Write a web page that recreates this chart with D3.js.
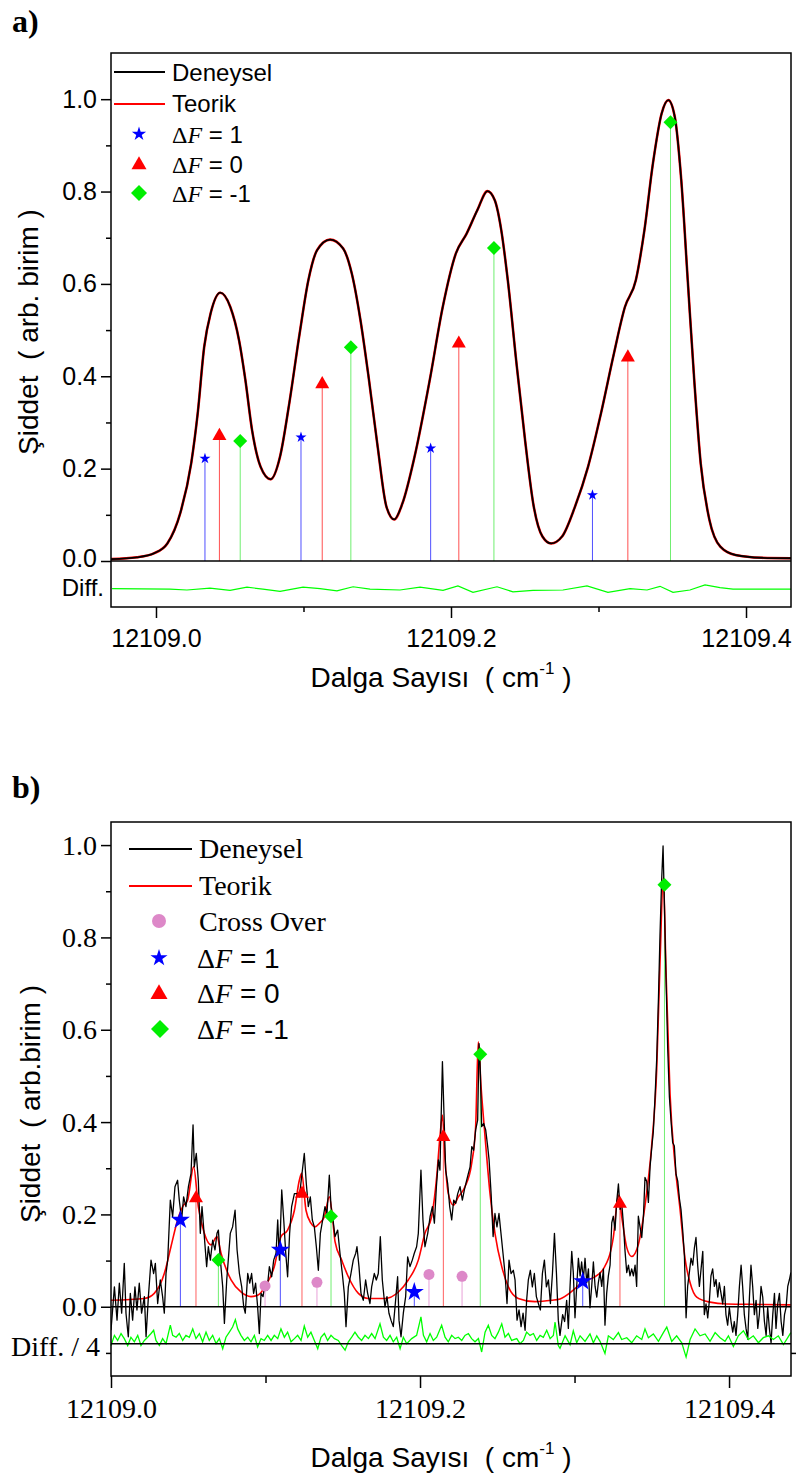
<!DOCTYPE html>
<html>
<head>
<meta charset="utf-8">
<script src="https://cdn.jsdelivr.net/npm/d3@7"></script>
<style>
body { margin: 0; background: #fff; }
text { white-space: pre; }
</style>
</head>
<body>
<div id="chart"></div>
<script>
// x values are offsets from 12109 cm-1
var base = 12109;
var xMajor = [0, 0.2, 0.4];
var xMinor = [0.1, 0.3];
var yMajor = [0, 0.2, 0.4, 0.6, 0.8, 1.0];
var yMinor = [0.1, 0.3, 0.5, 0.7, 0.9];

/* ---- panel a ---- */
var aX = [-0.0305,-0.0129,-0.0011,0.0077,0.0165,0.0239,0.0283,0.0327,0.0371,0.0436,0.0504,0.0563,0.0606,0.0651,0.0709,0.0777,0.0841,0.0900,0.0974,0.1033,0.1092,0.1180,0.1268,0.1327,0.1386,0.1444,0.1503,0.1562,0.1615,0.1671,0.1753,0.1856,0.1944,0.2033,0.2106,0.2179,0.2247,0.2297,0.2341,0.2385,0.2444,0.2502,0.2561,0.2620,0.2679,0.2753,0.2841,0.2929,0.3017,0.3105,0.3179,0.3253,0.3311,0.3369,0.3428,0.3473,0.3517,0.3561,0.3605,0.3649,0.3693,0.3752,0.3826,0.3928,0.4105,0.4305];
var aExp = [0.004,0.008,0.017,0.038,0.104,0.212,0.32,0.464,0.537,0.581,0.55,0.478,0.392,0.284,0.204,0.177,0.226,0.334,0.493,0.608,0.673,0.696,0.677,0.623,0.522,0.392,0.247,0.118,0.09,0.125,0.226,0.392,0.55,0.666,0.709,0.76,0.801,0.781,0.716,0.608,0.428,0.262,0.118,0.053,0.038,0.053,0.118,0.204,0.32,0.45,0.55,0.608,0.716,0.861,0.969,0.998,0.962,0.825,0.608,0.392,0.211,0.089,0.031,0.013,0.007,0.006];
// fit lies on top of the measured curve
var aTeo = aExp;
var aDiffX = [-0.0298,0.0095,0.0210,0.0366,0.0502,0.0617,0.0725,0.0841,0.0997,0.1112,0.1227,0.1336,0.1451,0.1654,0.1790,0.1946,0.2047,0.2149,0.2312,0.2420,0.2556,0.2759,0.2922,0.3064,0.3214,0.3329,0.3417,0.3505,0.3620,0.3722,0.3824,0.3912,0.4305];
var aDiff = [0,-0.001,-0.003,0.001,-0.004,0.003,-0.001,-0.006,0.003,0,-0.005,0.004,-0.001,-0.003,0.003,-0.004,0.006,-0.008,0.004,-0.007,-0.004,-0.003,0.006,-0.008,0,-0.003,0.005,-0.008,-0.003,0.008,0.002,-0.001,-0.001];
var aF1X = [0.0332,0.0983,0.1862,0.2959],  aF1Y = [0.222,0.268,0.244,0.143];
var aF0X = [0.0430,0.1127,0.2053,0.3199],  aF0Y = [0.271,0.383,0.471,0.441];
var aFm1X = [0.0571,0.1321,0.2291,0.3488], aFm1Y = [0.26,0.463,0.678,0.95];

/* ---- panel b ---- */
var bExp = [[0.0000,-0.051],[0.0022,0.043],[0.0039,-0.029],[0.0054,0.051],[0.0069,-0.014],[0.0086,0.094],[0.0097,-0.014],[0.0112,-0.065],[0.0125,0.029],[0.0140,-0.029],[0.0155,0.043],[0.0168,-0.007],[0.0183,0.051],[0.0198,-0.014],[0.0216,0.022],[0.0227,-0.065],[0.0242,0.022],[0.0259,0.101],[0.0276,0.072],[0.0287,0.094],[0.0302,0.007],[0.0319,0.058],[0.0334,0.022],[0.0345,-0.014],[0.0356,0.072],[0.0367,0.101],[0.0384,0.231],[0.0399,0.195],[0.0414,0.260],[0.0431,0.274],[0.0442,0.231],[0.0457,0.188],[0.0470,0.238],[0.0485,0.217],[0.0501,0.260],[0.0518,0.289],[0.0531,0.394],[0.0539,0.303],[0.0552,0.332],[0.0565,0.274],[0.0578,0.159],[0.0589,0.217],[0.0604,0.152],[0.0619,0.087],[0.0630,0.130],[0.0643,0.101],[0.0658,0.144],[0.0673,0.123],[0.0686,0.159],[0.0695,0.166],[0.0708,0.101],[0.0723,0.043],[0.0734,-0.036],[0.0749,0.058],[0.0759,0.101],[0.0772,0.159],[0.0787,0.173],[0.0803,0.209],[0.0816,0.123],[0.0831,0.072],[0.0846,0.043],[0.0859,0.000],[0.0869,-0.014],[0.0885,0.072],[0.0898,0.051],[0.0910,0.072],[0.0923,0.029],[0.0936,0.051],[0.0949,0.000],[0.0960,-0.058],[0.0971,0.029],[0.0984,0.022],[0.0997,0.051],[0.1010,0.036],[0.1025,0.087],[0.1040,0.065],[0.1053,0.101],[0.1068,0.116],[0.1079,0.188],[0.1090,0.101],[0.1105,0.253],[0.1118,0.188],[0.1131,0.116],[0.1143,0.065],[0.1156,0.159],[0.1169,0.217],[0.1187,0.245],[0.1204,0.245],[0.1219,0.238],[0.1234,0.282],[0.1251,0.332],[0.1264,0.267],[0.1277,0.217],[0.1290,0.238],[0.1303,0.188],[0.1316,0.173],[0.1329,0.130],[0.1342,0.079],[0.1355,0.159],[0.1370,0.188],[0.1385,0.217],[0.1398,0.202],[0.1413,0.285],[0.1424,0.217],[0.1437,0.188],
  [0.1450,0.152],[0.1467,0.166],[0.1482,0.116],[0.1497,0.072],[0.1510,0.029],[0.1521,-0.043],[0.1536,0.043],[0.1553,0.072],[0.1568,0.101],[0.1584,0.116],[0.1592,0.130],[0.1605,0.087],[0.1618,0.029],[0.1633,0.014],[0.1648,0.058],[0.1661,0.029],[0.1676,0.007],[0.1687,0.043],[0.1704,0.072],[0.1717,0.058],[0.1730,0.072],[0.1743,0.152],[0.1756,0.058],[0.1773,0.000],[0.1786,0.022],[0.1799,-0.014],[0.1812,-0.029],[0.1827,-0.043],[0.1842,0.014],[0.1855,0.065],[0.1864,-0.029],[0.1877,-0.065],[0.1892,-0.014],[0.1907,0.022],[0.1920,0.108],[0.1935,0.087],[0.1950,0.101],[0.1963,0.116],[0.1978,0.130],[0.1989,0.159],[0.2006,0.296],[0.2019,0.188],[0.2032,0.130],[0.2050,0.159],[0.2065,0.195],[0.2080,0.217],[0.2093,0.181],[0.2106,0.260],[0.2119,0.318],[0.2129,0.296],[0.2145,0.531],[0.2155,0.419],[0.2166,0.296],[0.2179,0.267],[0.2192,0.217],[0.2205,0.188],[0.2218,0.231],[0.2231,0.224],[0.2244,0.245],[0.2259,0.260],[0.2274,0.231],[0.2287,0.253],[0.2302,0.274],[0.2313,0.289],[0.2324,0.303],[0.2335,0.347],[0.2347,0.339],[0.2360,0.383],[0.2373,0.404],[0.2382,0.570],[0.2390,0.513],[0.2399,0.390],[0.2412,0.397],[0.2425,0.383],[0.2438,0.347],[0.2447,0.318],[0.2460,0.245],[0.2473,0.152],[0.2485,0.202],[0.2498,0.173],[0.2511,0.202],[0.2524,0.159],[0.2537,0.116],[0.2550,0.072],[0.2563,0.007],[0.2576,0.101],[0.2589,0.072],[0.2604,0.079],[0.2615,0.058],[0.2628,-0.029],[0.2641,-0.007],[0.2654,-0.043],[0.2667,-0.014],[0.2680,-0.051],[0.2690,0.014],[0.2701,0.058],[0.2714,0.079],[0.2727,0.043],[0.2740,0.072],[0.2753,0.022],[0.2766,0.007],[0.2779,-0.007],[0.2792,0.072],[0.2805,0.101],[0.2818,0.043],[0.2831,0.058],[0.2844,0.007],[0.2857,0.072],[0.2870,0.159],[0.2883,0.072],[0.2895,-0.029],
  [0.2906,-0.062],[0.2923,-0.017],[0.2936,-0.032],[0.2949,0.014],[0.2960,-0.047],[0.2971,0.044],[0.2982,0.120],[0.2992,0.074],[0.3003,-0.024],[0.3014,0.044],[0.3025,0.105],[0.3036,0.067],[0.3046,0.097],[0.3057,0.059],[0.3068,0.105],[0.3079,0.052],[0.3090,0.082],[0.3100,-0.002],[0.3111,0.044],[0.3122,0.097],[0.3133,0.044],[0.3144,0.021],[0.3154,0.052],[0.3165,0.074],[0.3176,0.044],[0.3187,0.082],[0.3197,-0.040],[0.3208,0.029],[0.3219,0.067],[0.3230,0.090],[0.3241,0.182],[0.3251,0.196],[0.3262,0.166],[0.3273,0.228],[0.3284,0.266],[0.3295,0.211],[0.3305,0.226],[0.3316,0.181],[0.3327,0.120],[0.3338,0.074],[0.3349,0.090],[0.3359,0.067],[0.3370,0.082],[0.3381,0.067],[0.3392,0.090],[0.3402,0.044],[0.3413,0.196],[0.3424,0.173],[0.3435,0.150],[0.3446,0.196],[0.3456,0.280],[0.3467,0.272],[0.3478,0.226],[0.3489,0.304],[0.3499,0.342],[0.3510,0.380],[0.3521,0.454],[0.3532,0.538],[0.3543,0.667],[0.3553,0.804],[0.3564,0.926],[0.3573,0.998],[0.3581,0.880],[0.3592,0.713],[0.3603,0.560],[0.3614,0.454],[0.3625,0.401],[0.3635,0.356],[0.3646,0.348],[0.3657,0.287],[0.3668,0.272],[0.3679,0.234],[0.3689,0.211],[0.3700,0.166],[0.3711,0.112],[0.3722,-0.024],[0.3732,0.044],[0.3743,0.074],[0.3754,0.105],[0.3765,0.090],[0.3776,0.128],[0.3786,0.150],[0.3797,0.090],[0.3808,0.044],[0.3819,0.082],[0.3830,0.120],[0.3840,-0.017],[0.3851,0.006],[0.3862,-0.024],[0.3873,0.014],[0.3883,0.067],[0.3894,0.082],[0.3905,0.044],[0.3916,0.059],[0.3927,0.021],[0.3937,0.052],[0.3948,0.029],[0.3959,0.006],[0.3970,0.044],[0.3980,-0.017],[0.3991,-0.040],[0.4002,-0.002],[0.4013,-0.032],[0.4024,-0.055],[0.4034,-0.032],[0.4045,-0.062],[0.4056,-0.017],[0.4067,0.044],[0.4078,0.090],[0.4088,0.044],[0.4099,-0.017],[0.4110,-0.047],[0.4121,-0.070],[0.4132,0.021],[0.4142,0.090],[0.4153,0.044],[0.4164,-0.017],[0.4175,0.014],[0.4186,-0.047],[0.4196,-0.017],[0.4207,0.044],[0.4218,0.021],[0.4229,-0.032],[0.4240,-0.062],[0.4250,-0.002],[0.4261,-0.047],[0.4272,-0.078],[0.4283,-0.017],[0.4294,0.029],[0.4304,-0.047],[0.4315,0.006],[0.4326,0.029],[0.4337,-0.032],[0.4348,-0.062],[0.4359,-0.017],[0.4369,-0.002],[0.4380,0.044],[0.4391,0.059],[0.4400,0.074]];
var bTeo = [[0,0.014],[0.0216,0.018],[0.0280,0.029],[0.0345,0.072],[0.0388,0.130],[0.0431,0.188],[0.0464,0.217],[0.0496,0.231],[0.0535,0.303],[0.0565,0.217],[0.0604,0.159],[0.0647,0.134],[0.0686,0.152],[0.0712,0.116],[0.0777,0.058],[0.0841,0.032],[0.0906,0.022],[0.0949,0.025],[0.1003,0.047],[0.1057,0.087],[0.1100,0.152],[0.1143,0.166],[0.1187,0.209],[0.1219,0.274],[0.1234,0.289],[0.1262,0.209],[0.1294,0.181],[0.1320,0.173],[0.1349,0.181],[0.1381,0.195],[0.1413,0.238],[0.1435,0.188],[0.1450,0.141],[0.1493,0.101],[0.1536,0.065],[0.1601,0.029],[0.1666,0.018],[0.1773,0.018],[0.1860,0.032],[0.1924,0.058],[0.1989,0.101],[0.2032,0.159],[0.2075,0.195],[0.2108,0.282],[0.2129,0.368],[0.2145,0.415],[0.2162,0.318],[0.2183,0.245],[0.2216,0.220],[0.2248,0.238],[0.2291,0.260],[0.2334,0.310],[0.2360,0.390],[0.2377,0.574],[0.2395,0.477],[0.2421,0.368],[0.2453,0.245],[0.2485,0.159],[0.2529,0.087],[0.2572,0.043],[0.2636,0.018],[0.2744,0.011],[0.2852,0.014],[0.2906,0.017],[0.2992,0.036],[0.3057,0.055],[0.3122,0.063],[0.3187,0.082],[0.3251,0.150],[0.3284,0.242],[0.3305,0.196],[0.3338,0.128],[0.3370,0.109],[0.3413,0.135],[0.3456,0.219],[0.3499,0.348],[0.3532,0.515],[0.3553,0.743],[0.3575,0.930],[0.3592,0.728],[0.3618,0.462],[0.3650,0.310],[0.3683,0.211],[0.3715,0.105],[0.3748,0.052],[0.3791,0.021],[0.3877,0.010],[0.3985,0.006],[0.4200,0.005],[0.4400,0.004]];
var bDiffBase = -0.08;
var bDiff = [[0.0000,-0.004],[0.0022,0.018],[0.0043,0.007],[0.0065,0.022],[0.0086,0.011],[0.0108,-0.004],[0.0129,0.014],[0.0151,0.004],[0.0173,0.018],[0.0194,-0.004],[0.0216,0.007],[0.0237,0.014],[0.0259,0.022],[0.0276,0.029],[0.0291,0.007],[0.0313,-0.004],[0.0334,0.011],[0.0356,0.000],[0.0384,0.040],[0.0399,0.018],[0.0421,0.014],[0.0442,0.022],[0.0464,0.007],[0.0485,0.018],[0.0507,0.014],[0.0529,0.032],[0.0550,0.011],[0.0572,0.022],[0.0593,0.004],[0.0615,0.025],[0.0636,0.007],[0.0658,0.018],[0.0680,0.000],[0.0701,0.011],[0.0723,-0.011],[0.0744,0.014],[0.0766,0.025],[0.0787,0.036],[0.0805,0.052],[0.0820,0.032],[0.0841,0.018],[0.0863,0.007],[0.0885,0.014],[0.0906,0.004],[0.0928,0.018],[0.0949,-0.007],[0.0971,0.011],[0.0992,0.007],[0.1014,0.018],[0.1036,0.007],[0.1057,0.018],[0.1079,0.011],[0.1100,0.032],[0.1122,0.014],[0.1143,0.025],[0.1165,0.004],[0.1187,0.011],[0.1208,0.018],[0.1230,0.007],[0.1251,0.038],[0.1273,0.014],[0.1294,0.025],[0.1316,0.007],[0.1338,-0.011],[0.1359,0.014],[0.1381,0.022],[0.1402,0.007],[0.1424,0.018],[0.1446,0.011],
  [0.1471,0.007],[0.1493,-0.004],[0.1515,-0.014],[0.1536,0.004],[0.1558,0.014],[0.1579,0.025],[0.1601,0.014],[0.1622,0.007],[0.1644,0.018],[0.1666,0.011],[0.1687,0.022],[0.1709,0.011],[0.1741,0.043],[0.1763,0.014],[0.1784,0.007],[0.1806,0.018],[0.1827,0.004],[0.1849,0.014],[0.1871,-0.011],[0.1892,0.014],[0.1914,0.000],[0.1946,0.011],[0.1978,0.018],[0.2006,0.058],[0.2022,0.018],[0.2043,0.004],[0.2065,0.022],[0.2086,0.007],[0.2108,0.014],[0.2140,0.040],[0.2162,0.014],[0.2183,0.004],[0.2205,0.018],[0.2227,0.011],[0.2248,0.014],[0.2270,0.007],[0.2291,0.018],[0.2313,0.022],[0.2334,0.011],[0.2356,0.004],[0.2378,0.011],[0.2399,-0.018],[0.2421,0.025],[0.2442,0.040],[0.2464,0.018],[0.2485,0.011],[0.2507,0.025],[0.2529,0.043],[0.2550,0.014],[0.2572,0.022],[0.2593,0.007],[0.2626,0.011],[0.2647,0.000],[0.2669,0.007],[0.2690,0.025],[0.2712,0.018],[0.2734,0.022],[0.2755,0.007],[0.2777,0.018],[0.2798,0.014],[0.2820,0.029],[0.2842,0.011],[0.2863,0.018],[0.2874,0.047],[0.2895,-0.004],
  [0.2906,-0.010],[0.2939,0.017],[0.2971,-0.002],[0.2992,0.028],[0.3014,0.002],[0.3036,0.017],[0.3068,0.005],[0.3100,0.021],[0.3122,0.002],[0.3144,0.017],[0.3165,0.005],[0.3197,-0.021],[0.3219,0.017],[0.3251,0.009],[0.3284,0.024],[0.3305,0.009],[0.3338,0.013],[0.3370,0.002],[0.3402,0.017],[0.3435,0.009],[0.3456,0.032],[0.3478,0.013],[0.3510,0.021],[0.3543,0.005],[0.3575,0.024],[0.3597,0.036],[0.3629,0.005],[0.3661,0.017],[0.3694,0.002],[0.3722,-0.029],[0.3748,0.009],[0.3780,0.032],[0.3812,0.017],[0.3845,0.021],[0.3877,0.005],[0.3910,0.024],[0.3942,0.013],[0.3974,0.005],[0.3996,0.017],[0.4028,-0.006],[0.4060,0.017],[0.4093,0.028],[0.4125,0.009],[0.4157,0.017],[0.4190,0.002],[0.4222,0.013],[0.4255,0.017],[0.4287,0.009],[0.4319,0.017],[0.4352,-0.002],[0.4380,0.013],[0.4400,0.024]];
var bCrossX = [0.0997,0.1333,0.2058,0.2272], bCrossY = [0.045,0.053,0.070,0.066];
var bF1X = [0.0449,0.1096,0.1963,0.3053],  bF1Y = [0.188,0.123,0.032,0.055];
var bF0X = [0.0550,0.1236,0.2151,0.3294],  bF0Y = [0.235,0.245,0.368,0.223];
var bFm1X = [0.0695,0.1424,0.2390,0.3582], bFm1Y = [0.101,0.196,0.547,0.914];

var SANS = "'Liberation Sans', Arial, sans-serif";
var SERIF = "'Liberation Serif', 'Times New Roman', serif";
var BLUE = "#0000ff", RED = "#ff0000", GREEN = "#00ee00", PINK = "#dd88c8";

var svg = d3.select("#chart").append("svg").attr("width", 797).attr("height", 1476);
var defs = svg.append("defs");

function starSym(r) { return d3.symbol(d3.symbolStar, r * r / 0.8908130915292852)(); }
function triSym(w) { var y = w / (2 * Math.sqrt(3)); return d3.symbol(d3.symbolTriangle, y * y * 3 * Math.sqrt(3))(); }
function diaSym(d) { var s = d / Math.SQRT2; return d3.symbol(d3.symbolSquare, s * s)(); }
function dotSym(d) { return d3.symbol(d3.symbolCircle, Math.PI * d * d / 4)(); }

// stem lines from zero up to each line position, returns the points
function stems(g, x, y, xs, ys, stemColor) {
  var pts = xs.map(function(v, i) { return [v, ys[i]]; });
  g.selectAll(null).data(pts).enter().append("line")
    .attr("x1", function(d) { return x(d[0]); }).attr("x2", function(d) { return x(d[0]); })
    .attr("y1", y(0)).attr("y2", function(d) { return y(d[1]); })
    .attr("stroke", stemColor).attr("stroke-width", 1);
  return pts;
}
function drawSyms(g, x, y, pts, path, color, rot) {
  g.selectAll(null).data(pts).enter().append("path")
    .attr("d", path)
    .attr("transform", function(d) { return "translate(" + x(d[0]) + "," + y(d[1]) + ")" + (rot ? " rotate(45)" : ""); })
    .attr("fill", color);
}
function deltaF(t, val) {
  t.append("tspan").attr("font-family", SERIF).text("\u0394");
  t.append("tspan").attr("font-family", SERIF).attr("font-style", "italic").text("F");
  t.append("tspan").attr("font-family", SANS).text(" = " + val);
}
function styleAxis(g, font, size) {
  g.select(".domain").remove();
  g.selectAll("line").attr("stroke", "#000").attr("stroke-width", 1.5);
  g.selectAll("text").attr("font-family", font).attr("font-size", size).attr("fill", "#000");
}

/* ================= panel a ================= */
var xA = d3.scaleLinear().domain([-0.0305, 0.4305]).range([111, 791]);
var yA = d3.scaleLinear().domain([0, 1.1]).range([561, 53]);
var yDA = d3.scaleLinear().domain([-0.04, 0.06]).range([607, 561]);

var gA = svg.append("g");
defs.append("clipPath").attr("id", "clipA").append("rect")
  .attr("x", 111).attr("y", 53).attr("width", 680).attr("height", 554);

var stemsA = gA.append("g");
var p1 = stems(stemsA, xA, yA, aF1X, aF1Y, "#5050ff");
var p0 = stems(stemsA, xA, yA, aF0X, aF0Y, "#ff5050");
var pm = stems(stemsA, xA, yA, aFm1X, aFm1Y, "#70ee70");

var lineA = d3.line().x(function(d) { return xA(d[0]); }).y(function(d) { return yA(d[1]); }).curve(d3.curveMonotoneX);
var teoA = aX.map(function(v, i) { return [v, aTeo[i]]; });
var expA = aX.map(function(v, i) { return [v, aExp[i]]; });
gA.append("path").datum(teoA).attr("d", lineA).attr("fill", "none").attr("stroke", RED).attr("stroke-width", 2.6).attr("clip-path", "url(#clipA)");
gA.append("path").datum(expA).attr("d", lineA).attr("fill", "none").attr("stroke", "#000").attr("stroke-width", 1.8).attr("clip-path", "url(#clipA)");

drawSyms(gA, xA, yA, p1, starSym(5.8), BLUE, false);
drawSyms(gA, xA, yA, p0, triSym(14), RED, false);
drawSyms(gA, xA, yA, pm, diaSym(14), GREEN, true);

var diffA = aDiffX.map(function(v, i) { return [v, aDiff[i]]; });
gA.append("path").datum(diffA)
  .attr("d", d3.line().x(function(d) { return xA(d[0]); }).y(function(d) { return yDA(d[1]); }))
  .attr("fill", "none").attr("stroke", "#00ff00").attr("stroke-width", 1.2);

// frame
gA.append("rect").attr("x", 111).attr("y", 53).attr("width", 680).attr("height", 554)
  .attr("fill", "none").attr("stroke", "#000").attr("stroke-width", 1.5);
gA.append("line").attr("x1", 111).attr("x2", 791).attr("y1", yA(0)).attr("y2", yA(0))
  .attr("stroke", "#000").attr("stroke-width", 1.5);

var axAx = gA.append("g").attr("transform", "translate(0,607)")
  .call(d3.axisBottom(xA).tickValues(xMajor).tickSize(11).tickPadding(11)
    .tickFormat(function(d) { return (base + d).toFixed(1); }));
styleAxis(axAx, SANS, 25);
var axAxm = gA.append("g").attr("transform", "translate(0,607)")
  .call(d3.axisBottom(xA).tickValues(xMinor).tickSize(5).tickFormat(""));
styleAxis(axAxm, SANS, 25);
var axAy = gA.append("g").attr("transform", "translate(111,0)")
  .call(d3.axisLeft(yA).tickValues(yMajor).tickSize(10).tickPadding(4).tickFormat(d3.format(".1f")));
styleAxis(axAy, SANS, 25);
// the 0.0 label sits a little high, leaving room for "Diff."
axAy.selectAll(".tick text").filter(function(d) { return d === 0; }).attr("dy", "0.2em");
var axAym = gA.append("g").attr("transform", "translate(111,0)")
  .call(d3.axisLeft(yA).tickValues(yMinor).tickSize(5).tickFormat(""));
styleAxis(axAym, SANS, 25);

gA.append("text").attr("x", 104).attr("y", 596).attr("text-anchor", "end")
  .attr("font-family", SANS).attr("font-size", 24).text("Diff.");

// legend a
var legA = gA.append("g");
legA.append("line").attr("x1", 114).attr("x2", 165).attr("y1", 72).attr("y2", 72).attr("stroke", "#000").attr("stroke-width", 1.8);
legA.append("line").attr("x1", 114).attr("x2", 165).attr("y1", 104).attr("y2", 104).attr("stroke", RED).attr("stroke-width", 1.8);
legA.append("text").attr("x", 172).attr("y", 81).attr("font-family", SANS).attr("font-size", 24).text("Deneysel");
legA.append("text").attr("x", 172).attr("y", 112).attr("font-family", SANS).attr("font-size", 24).text("Teorik");
legA.append("path").attr("d", starSym(7.5)).attr("transform", "translate(139,134)").attr("fill", BLUE);
legA.append("path").attr("d", triSym(15)).attr("transform", "translate(139,165)").attr("fill", RED);
legA.append("path").attr("d", diaSym(16)).attr("transform", "translate(139,193) rotate(45)").attr("fill", GREEN);
deltaF(legA.append("text").attr("x", 172).attr("y", 143).attr("font-size", 24), "1");
deltaF(legA.append("text").attr("x", 172).attr("y", 173).attr("font-size", 24), "0");
deltaF(legA.append("text").attr("x", 172).attr("y", 202).attr("font-size", 24), "-1");

// titles a
svg.append("text").attr("x", 12).attr("y", 32).attr("font-family", SERIF).attr("font-weight", "bold").attr("font-size", 32).text("a)");
var xtA = svg.append("text").attr("x", 441).attr("y", 687).attr("text-anchor", "middle").attr("font-family", SANS).attr("font-size", 28);
xtA.append("tspan").text("Dalga Sayısı  ( cm");
xtA.append("tspan").attr("font-size", 17).attr("dy", -13).text("-1");
xtA.append("tspan").attr("dy", 13).text(" )");
svg.append("text").attr("transform", "translate(38,332) rotate(-90)").attr("text-anchor", "middle")
  .attr("font-family", SANS).attr("font-size", 28).text("Şiddet  ( arb. birim )");

/* ================= panel b ================= */
var xB = d3.scaleLinear().domain([0, 0.4401]).range([111, 791]);
var yB = d3.scaleLinear().domain([-0.15, 1.05]).range([1376, 822]);

var gB = svg.append("g");
defs.append("clipPath").attr("id", "clipB").append("rect")
  .attr("x", 111).attr("y", 822).attr("width", 680).attr("height", 554);

var stemsB = gB.append("g");
var q1 = stems(stemsB, xB, yB, bF1X, bF1Y, "#5050ff");
var q0 = stems(stemsB, xB, yB, bF0X, bF0Y, "#ff6060");
var qm = stems(stemsB, xB, yB, bFm1X, bFm1Y, "#70ee70");
var qc = stems(stemsB, xB, yB, bCrossX, bCrossY, "#e8a0d8");

var lineB = d3.line().x(function(d) { return xB(d[0]); }).y(function(d) { return yB(d[1]); });
gB.append("path").datum(bTeo).attr("d", lineB.curve(d3.curveMonotoneX)).attr("fill", "none")
  .attr("stroke", RED).attr("stroke-width", 1.6).attr("clip-path", "url(#clipB)");
gB.append("path").datum(bExp).attr("d", lineB.curve(d3.curveLinear)).attr("fill", "none")
  .attr("stroke", "#000").attr("stroke-width", 1.3).attr("stroke-linejoin", "round").attr("clip-path", "url(#clipB)");

drawSyms(gB, xB, yB, qc, dotSym(11), PINK, false);
drawSyms(gB, xB, yB, q1, starSym(10), BLUE, false);
drawSyms(gB, xB, yB, q0, triSym(14), RED, false);
drawSyms(gB, xB, yB, qm, diaSym(14), GREEN, true);

gB.append("path").datum(bDiff)
  .attr("d", d3.line().x(function(d) { return xB(d[0]); }).y(function(d) { return yB(bDiffBase + d[1]); }))
  .attr("fill", "none").attr("stroke", "#00ff00").attr("stroke-width", 1.3);

gB.append("line").attr("x1", 111).attr("x2", 791).attr("y1", yB(0)).attr("y2", yB(0)).attr("stroke", "#000").attr("stroke-width", 1.5);
gB.append("line").attr("x1", 111).attr("x2", 791).attr("y1", yB(bDiffBase)).attr("y2", yB(bDiffBase)).attr("stroke", "#000").attr("stroke-width", 1.5);
gB.append("rect").attr("x", 111).attr("y", 822).attr("width", 680).attr("height", 554)
  .attr("fill", "none").attr("stroke", "#000").attr("stroke-width", 1.5);

var axBx = gB.append("g").attr("transform", "translate(0,1376)")
  .call(d3.axisBottom(xB).tickValues(xMajor).tickSize(12).tickPadding(10)
    .tickFormat(function(d) { return (base + d).toFixed(1); }));
styleAxis(axBx, SERIF, 28);
var axBxm = gB.append("g").attr("transform", "translate(0,1376)")
  .call(d3.axisBottom(xB).tickValues(xMinor).tickSize(7).tickFormat(""));
styleAxis(axBxm, SERIF, 28);
var axBy = gB.append("g").attr("transform", "translate(111,0)")
  .call(d3.axisLeft(yB).tickValues(yMajor).tickSize(10).tickPadding(4).tickFormat(d3.format(".1f")));
styleAxis(axBy, SERIF, 28);
var axBym = gB.append("g").attr("transform", "translate(111,0)")
  .call(d3.axisLeft(yB).tickValues(yMinor.concat([-0.1])).tickSize(5).tickFormat(""));
styleAxis(axBym, SERIF, 28);
var axByr = gB.append("g").attr("transform", "translate(791,0)")
  .call(d3.axisRight(yB).tickValues([-0.1]).tickSize(5).tickFormat(""));
styleAxis(axByr, SERIF, 28);
gB.append("text").attr("x", 100).attr("y", 1356).attr("text-anchor", "end")
  .attr("font-family", SERIF).attr("font-size", 28).text("Diff. / 4");

// legend b
var legB = gB.append("g");
legB.append("line").attr("x1", 129).attr("x2", 192).attr("y1", 849).attr("y2", 849).attr("stroke", "#000").attr("stroke-width", 1.8);
legB.append("line").attr("x1", 129).attr("x2", 192).attr("y1", 886).attr("y2", 886).attr("stroke", RED).attr("stroke-width", 1.8);
legB.append("text").attr("x", 199).attr("y", 858).attr("font-family", SERIF).attr("font-size", 28).text("Deneysel");
legB.append("text").attr("x", 199).attr("y", 895).attr("font-family", SERIF).attr("font-size", 28).text("Teorik");
legB.append("text").attr("x", 199).attr("y", 931).attr("font-family", SERIF).attr("font-size", 28).text("Cross Over");
legB.append("path").attr("d", dotSym(14)).attr("transform", "translate(159,921)").attr("fill", PINK);
legB.append("path").attr("d", starSym(9)).attr("transform", "translate(159,958)").attr("fill", BLUE);
legB.append("path").attr("d", triSym(17)).attr("transform", "translate(159,994)").attr("fill", RED);
legB.append("path").attr("d", diaSym(18)).attr("transform", "translate(160,1029) rotate(45)").attr("fill", GREEN);
deltaF(legB.append("text").attr("x", 197).attr("y", 968).attr("font-size", 28), "1");
deltaF(legB.append("text").attr("x", 197).attr("y", 1003).attr("font-size", 28), "0");
deltaF(legB.append("text").attr("x", 197).attr("y", 1039).attr("font-size", 28), "-1");

// titles b
svg.append("text").attr("x", 12).attr("y", 798).attr("font-family", SERIF).attr("font-weight", "bold").attr("font-size", 32).text("b)");
var xtB = svg.append("text").attr("x", 441).attr("y", 1467).attr("text-anchor", "middle").attr("font-family", SANS).attr("font-size", 28);
xtB.append("tspan").text("Dalga Sayısı  ( cm");
xtB.append("tspan").attr("font-size", 17).attr("dy", -13).text("-1");
xtB.append("tspan").attr("dy", 13).text(" )");
svg.append("text").attr("transform", "translate(40,1104) rotate(-90)").attr("text-anchor", "middle")
  .attr("font-family", SANS).attr("font-size", 28).text("Şiddet  ( arb.birim )");
</script>
</body>
</html>
